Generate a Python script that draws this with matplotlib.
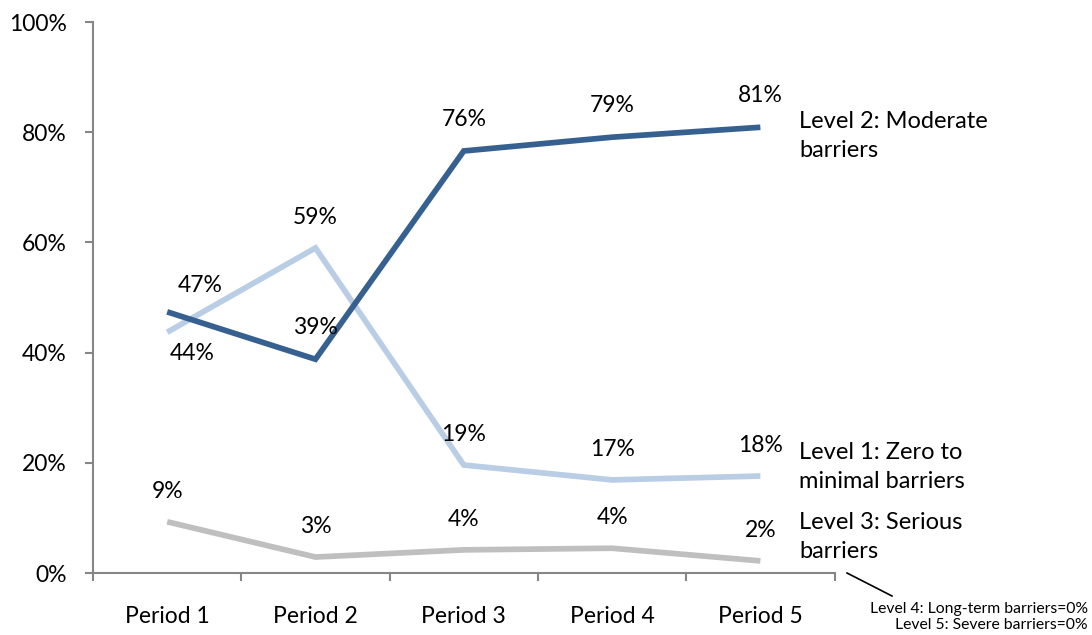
import matplotlib.pyplot as plt
import numpy as np

plt.rcParams['font.family'] = ['Lato', 'DejaVu Sans']

periods = ['Period 1', 'Period 2', 'Period 3', 'Period 4', 'Period 5']
level2 = [47.4, 38.8, 76.6, 79.1, 80.9]
level1 = [43.7, 59.0, 19.6, 16.9, 17.6]
level3 = [9.3, 2.9, 4.2, 4.5, 2.2]
level2_labels = ['47%', '39%', '76%', '79%', '81%']
level1_labels = ['44%', '59%', '19%', '17%', '18%']
level3_labels = ['9%', '3%', '4%', '4%', '2%']

c_dark = '#36608F'
c_light = '#B9CDE5'
c_gray = '#BFBFBF'
axis_c = '#868686'

fig = plt.figure(figsize=(10.92, 6.35), dpi=100)
ax = fig.add_axes([0.0852, 0.0976, 0.679, 0.8677])

x = np.arange(len(periods))
ax.plot(x, level3, color=c_gray, lw=4.1, solid_capstyle='butt', solid_joinstyle='miter')
ax.plot(x, level1, color=c_light, lw=4.1, solid_capstyle='butt', solid_joinstyle='miter')
ax.plot(x, level2, color=c_dark, lw=4.1, solid_capstyle='butt', solid_joinstyle='miter')

fs = 16.5
# data labels, mostly ~31px above the point
for i, (v, lab) in enumerate(zip(level2, level2_labels)):
    off = (24, 19) if i == 0 else (0, 23)
    ax.annotate(lab, (i, v), xytext=off, textcoords='offset points',
                ha='center', va='center', fontsize=fs)
for i, (v, lab) in enumerate(zip(level1, level1_labels)):
    off = (18, -15) if i == 0 else (0, 22)
    ax.annotate(lab, (i, v), xytext=off, textcoords='offset points',
                ha='center', va='center', fontsize=fs)
for i, (v, lab) in enumerate(zip(level3, level3_labels)):
    ax.annotate(lab, (i, v), xytext=(0, 22), textcoords='offset points',
                ha='center', va='center', fontsize=fs)

# series names on the right
fig.text(799 / 1092, 1 - 136 / 635, 'Level 2: Moderate\nbarriers', fontsize=17,
         ha='left', va='center', linespacing=1.5)
fig.text(799 / 1092, 1 - 467 / 635, 'Level 1: Zero to\nminimal barriers', fontsize=17,
         ha='left', va='center', linespacing=1.5)
fig.text(799 / 1092, 1 - 537 / 635, 'Level 3: Serious\nbarriers', fontsize=17,
         ha='left', va='center', linespacing=1.5)
fig.text(1088 / 1092, 1 - 617 / 635,
         'Level 4: Long-term barriers=0%\nLevel 5: Severe barriers=0%',
         fontsize=11.3, ha='right', va='center', linespacing=1.15)
fig.add_artist(plt.Line2D([847 / 1092, 892 / 1092], [1 - 573 / 635, 1 - 596 / 635],
                          color='black', lw=1.2, transform=fig.transFigure))

ax.set_xlim(-0.5, len(periods) - 0.5)
ax.set_ylim(0, 100)
ax.set_yticks(np.arange(0, 101, 20))
ax.set_yticklabels([f'{t}%' for t in range(0, 101, 20)], fontsize=fs)
ax.set_xticks(x)
ax.set_xticklabels(periods, fontsize=fs)
ax.set_xticks(np.arange(-0.5, len(periods), 1), minor=True)
ax.tick_params(axis='x', which='major', length=0, pad=24)
ax.tick_params(axis='x', which='minor', length=6, color=axis_c, width=1.5)
ax.tick_params(axis='y', length=6, color=axis_c, width=1.5, pad=13)

for s in ['top', 'right']:
    ax.spines[s].set_visible(False)
for s in ['left', 'bottom']:
    ax.spines[s].set_color(axis_c)
    ax.spines[s].set_linewidth(1.5)

fig.savefig('out.png', dpi=100)
